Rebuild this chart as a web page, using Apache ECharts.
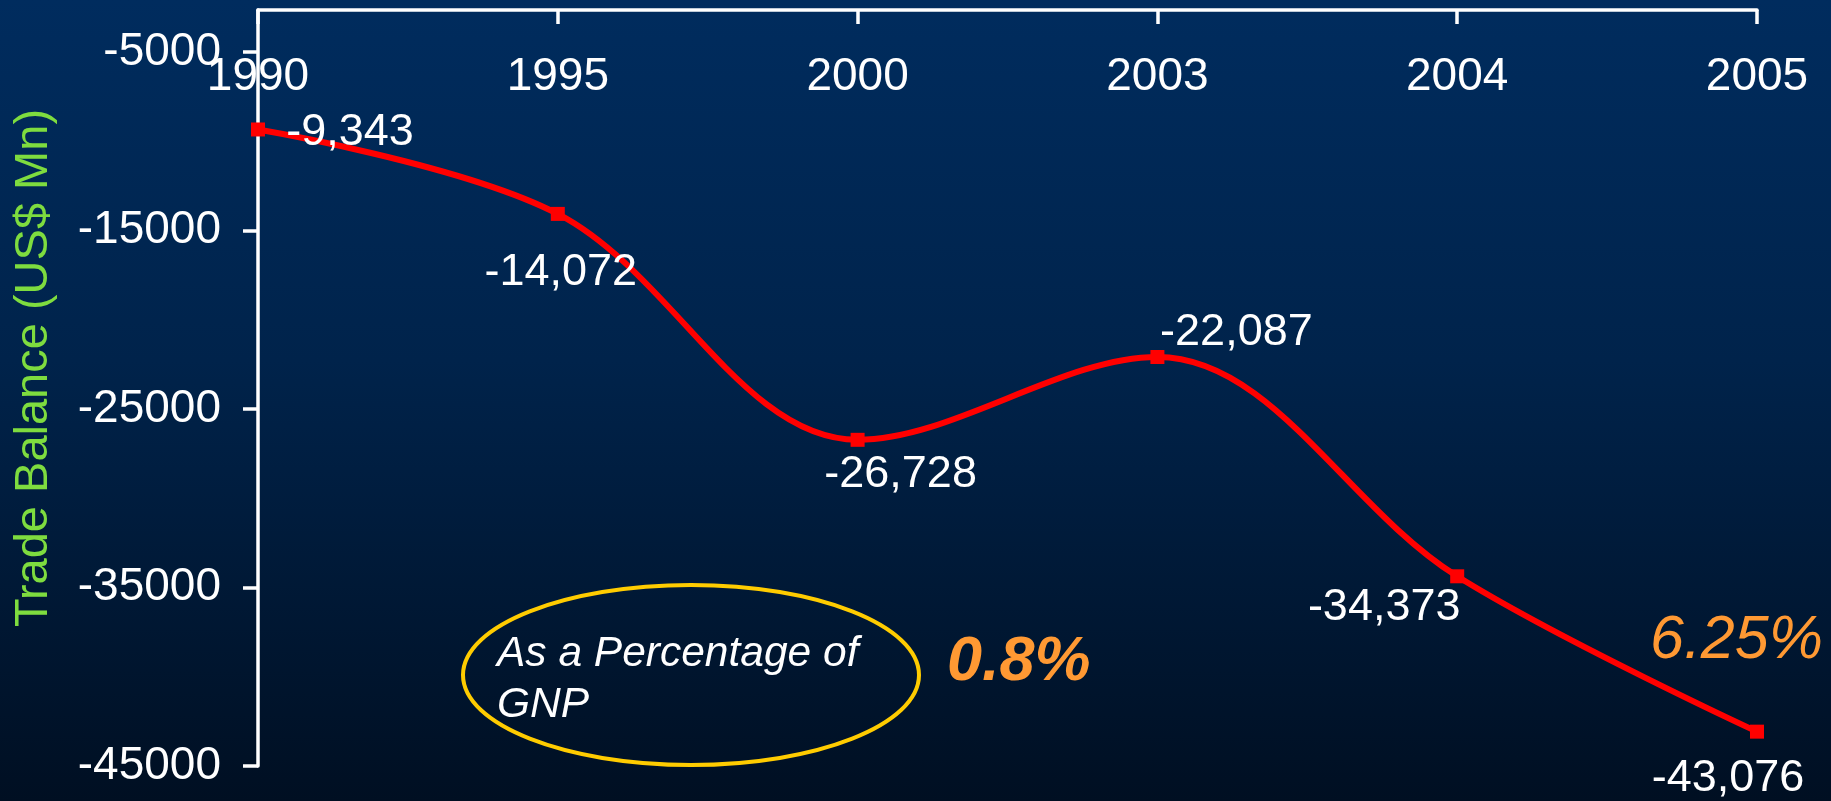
<!DOCTYPE html>
<html>
<head>
<meta charset="utf-8">
<title>Trade Balance</title>
<script src="https://cdn.jsdelivr.net/npm/echarts@6/dist/echarts.min.js"></script>
<style>
  html, body { margin: 0; padding: 0; }
  #chart {
    width: 1831px;
    height: 801px;
    background: linear-gradient(to bottom, #002c5e 0%, #00234b 45%, #000f22 100%);
  }
</style>
</head>
<body>
<div id="chart"></div>
<script>
// data
const years = ['1990', '1995', '2000', '2003', '2004', '2005'];
const tradeBalance = [-9343, -14072, -26728, -22087, -34373, -43076];
const yTicks = [-45000, -35000, -25000, -15000, -5000];
const gnpShare = ['0.8%', '6.25%'];

const FONT = '"Liberation Sans", Arial, sans-serif';

// label offsets (px) from each point, to sit where the slide put them
const labelOffsets = [[92, 3], [3, 59], [43, 35], [79, -24], [-73, 31], [-29, 47]];

const chart = echarts.init(document.getElementById('chart'));

chart.setOption({
  backgroundColor: 'transparent',
  animation: false,
  grid: { left: 258, right: 74, top: 10, bottom: 35 },
  xAxis: {
    type: 'category',
    position: 'top',
    data: years,
    boundaryGap: false,
    axisLine: { lineStyle: { color: '#fff', width: 3.5 } },
    axisTick: { inside: true, length: 14, alignWithLabel: true, lineStyle: { color: '#fff', width: 3.5 } },
    axisLabel: { inside: true, margin: 44, color: '#fff', fontSize: 46, fontFamily: FONT },
    splitLine: { show: false }
  },
  yAxis: {
    type: 'value',
    min: -45000,
    max: -2650,
    name: 'Trade Balance (US$ Mn)',
    nameLocation: 'middle',
    nameRotate: 90,
    nameGap: 200,
    nameTextStyle: { color: '#7edc3f', fontSize: 47, fontFamily: FONT, padding: [0, 0, 0, 40] },
    axisLine: { show: true, lineStyle: { color: '#fff', width: 3.5 } },
    axisTick: { show: true, length: 15, customValues: yTicks, lineStyle: { color: '#fff', width: 3.5 } },
    axisLabel: {
      margin: 37, color: '#fff', fontSize: 46, fontFamily: FONT, customValues: yTicks,
      formatter: v => String(v)
    },
    splitLine: { show: false }
  },
  series: [{
    type: 'line',
    data: tradeBalance.map((v, i) => ({
      value: v,
      label: { offset: labelOffsets[i] }
    })),
    smooth: 0.35,
    symbol: 'rect',
    symbolSize: 14,
    itemStyle: { color: '#ff0000' },
    lineStyle: { color: '#ff0000', width: 6 },
    label: {
      show: true,
      position: 'inside',
      color: '#fff',
      fontSize: 45,
      fontFamily: FONT,
      formatter: p => p.value.toLocaleString('en-US')
    }
  }],
  graphic: [
    {
      type: 'ellipse',
      shape: { cx: 691, cy: 675, rx: 228, ry: 90 },
      style: { fill: 'none', stroke: '#ffcc00', lineWidth: 4 }
    },
    {
      type: 'text',
      style: {
        x: 497, y: 629,
        text: 'As a Percentage of\nGNP',
        fill: '#fff',
        fontSize: 42.5,
        fontStyle: 'italic',
        fontFamily: FONT,
        lineHeight: 51,
        align: 'left',
        verticalAlign: 'top'
      }
    },
    {
      type: 'text',
      style: {
        x: 947, y: 663,
        text: gnpShare[0],
        fill: '#ff9933',
        fontSize: 63,
        fontStyle: 'italic',
        fontWeight: 'bold',
        fontFamily: FONT,
        align: 'left',
        verticalAlign: 'middle'
      }
    },
    {
      type: 'text',
      style: {
        x: 1650, y: 641,
        text: gnpShare[1],
        fill: '#ff9933',
        fontSize: 61,
        fontStyle: 'italic',
        fontFamily: FONT,
        align: 'left',
        verticalAlign: 'middle'
      }
    }
  ]
});

window.onresize = function () {
  chart.resize();
};
</script>
</body>
</html>
